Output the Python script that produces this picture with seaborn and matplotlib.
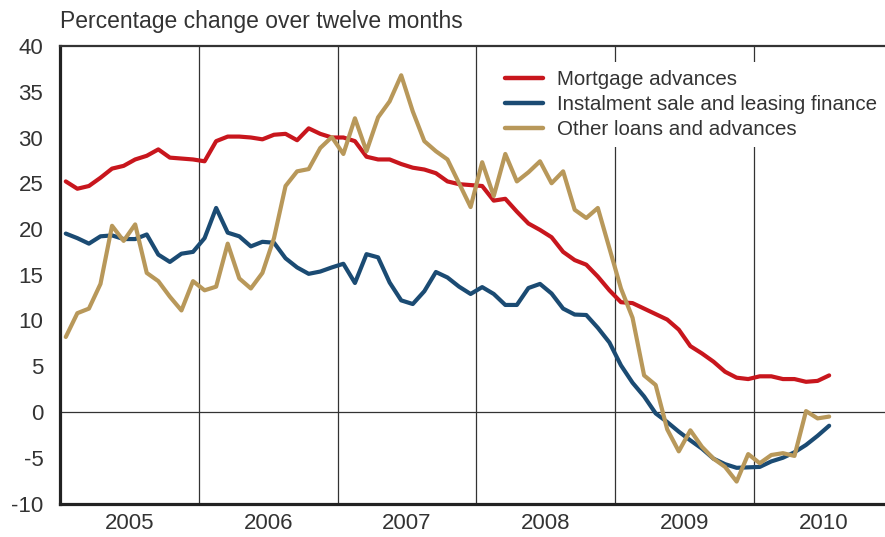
import numpy as np
import pandas as pd
import matplotlib
matplotlib.use("Agg")
import matplotlib.pyplot as plt
import seaborn as sns

# monthly observations, Jan 2005 - Jul 2010
months = pd.date_range("2005-01-01", periods=67, freq="MS")

mortgage = [25.2, 24.4, 24.7, 25.6, 26.6, 26.9, 27.6, 28.0, 28.7, 27.8, 27.7, 27.6,
            27.4, 29.6, 30.1, 30.1, 30.0, 29.8, 30.3, 30.4, 29.7, 31.0, 30.4, 30.0,
            30.0, 29.6, 27.9, 27.6, 27.6, 27.1, 26.7, 26.5, 26.1, 25.2, 24.9, 24.8,
            24.7, 23.1, 23.3, 21.9, 20.6, 19.9, 19.1, 17.5, 16.6, 16.1, 14.8, 13.3,
            12.0, 11.9, 11.3, 10.7, 10.1, 9.0, 7.2, 6.4, 5.5, 4.4, 3.75, 3.6,
            3.9, 3.9, 3.6, 3.6, 3.3, 3.4, 4.0]

instalment = [19.5, 19.0, 18.4, 19.2, 19.3, 18.9, 18.9, 19.4, 17.2, 16.4, 17.3, 17.5,
              19.0, 22.3, 19.6, 19.2, 18.1, 18.6, 18.5, 16.8, 15.8, 15.1, 15.35, 15.8,
              16.2, 14.1, 17.25, 16.9, 14.15, 12.2, 11.8, 13.2, 15.3, 14.7, 13.7, 12.9,
              13.65, 12.9, 11.7, 11.7, 13.55, 14.0, 12.95, 11.3, 10.65, 10.6, 9.2, 7.6,
              5.1, 3.2, 1.7, -0.15, -1.1, -2.15, -3.1, -4.0, -5.1, -5.7, -6.1, -6.05,
              -6.0, -5.4, -5.0, -4.4, -3.6, -2.6, -1.5]

other = [8.2, 10.8, 11.3, 14.0, 20.35, 18.7, 20.5, 15.2, 14.3, 12.6, 11.1, 14.3,
         13.3, 13.7, 18.4, 14.6, 13.5, 15.2, 19.0, 24.7, 26.3, 26.55, 28.85, 30.05,
         28.2, 32.1, 28.5, 32.2, 33.95, 36.8, 32.85, 29.6, 28.5, 27.6, 25.0, 22.4,
         27.3, 23.6, 28.2, 25.2, 26.2, 27.4, 25.0, 26.3, 22.1, 21.2, 22.3, 17.9,
         13.5, 10.3, 4.0, 2.95, -1.9, -4.3, -2.0, -3.8, -5.1, -6.0, -7.6, -4.6,
         -5.6, -4.7, -4.5, -4.8, 0.1, -0.7, -0.5]

series_names = ["Mortgage advances", "Instalment sale and leasing finance",
                "Other loans and advances"]
colors = ["#c8161d", "#1b4b73", "#b8985a"]
years = [2005, 2006, 2007, 2008, 2009, 2010]

# fractional year, middle of each month
t = months.year + (months.month - 0.5) / 12.0

df = pd.concat([
    pd.DataFrame({"t": t, "value": mortgage, "series": series_names[0]}),
    pd.DataFrame({"t": t, "value": instalment, "series": series_names[1]}),
    pd.DataFrame({"t": t, "value": other, "series": series_names[2]}),
])

sns.set_style("white")
plt.rcParams["font.family"] = ["Liberation Sans", "DejaVu Sans"]
plt.rcParams["axes.unicode_minus"] = False
txt = "#333333"

fig = plt.figure(figsize=(8.85, 5.37), dpi=100)
ax = fig.add_axes([60 / 885, 1 - 503.5 / 537, 1 - 60 / 885, (503.5 - 46) / 537])

# year separators and zero line
for yr in years[1:]:
    ax.axvline(yr, color="#333333", lw=0.9, zorder=1)
ax.axhline(0, color="#333333", lw=0.9, zorder=1)

sns.lineplot(data=df, x="t", y="value", hue="series", hue_order=series_names,
             palette=colors, linewidth=3, ax=ax, legend=False, zorder=3)

ax.set_xlim(2005, 2010.944)
ax.set_ylim(-10, 40)
ax.set_yticks(np.arange(-10, 41, 5))
ax.set_xticks([y + 0.5 for y in years])
ax.set_xticklabels([str(y) for y in years])
ax.set_xlabel("")
ax.set_ylabel("")

ax.tick_params(axis="y", direction="in", length=15, width=2.2, color="#222222",
               labelsize=16, labelcolor=txt, pad=12)
ax.tick_params(axis="x", length=0, labelsize=16, labelcolor=txt, pad=7)

for side in ["left", "bottom"]:
    ax.spines[side].set_linewidth(2.3)
    ax.spines[side].set_color("#222222")
ax.spines["top"].set_linewidth(1.6)
ax.spines["top"].set_color("#333333")
ax.spines["right"].set_visible(False)

handles = [plt.Line2D([], [], color=c, lw=3.2) for c in colors]
leg = ax.legend(handles, series_names, loc="upper left",
                bbox_to_anchor=((497 - 60) / 825, 1 - (62 - 46) / 457.5),
                frameon=True, facecolor="white", edgecolor="none", framealpha=1,
                fancybox=False, fontsize=14.8, handlelength=1.85, handletextpad=0.68,
                labelspacing=0.28, borderpad=0.4, borderaxespad=0, labelcolor=txt)
leg.set_zorder(5)

fig.text(60 / 885, 1 - 28 / 537, "Percentage change over twelve months",
         fontsize=16.5, color=txt, ha="left", va="baseline")

fig.savefig("out.png", dpi=100)
